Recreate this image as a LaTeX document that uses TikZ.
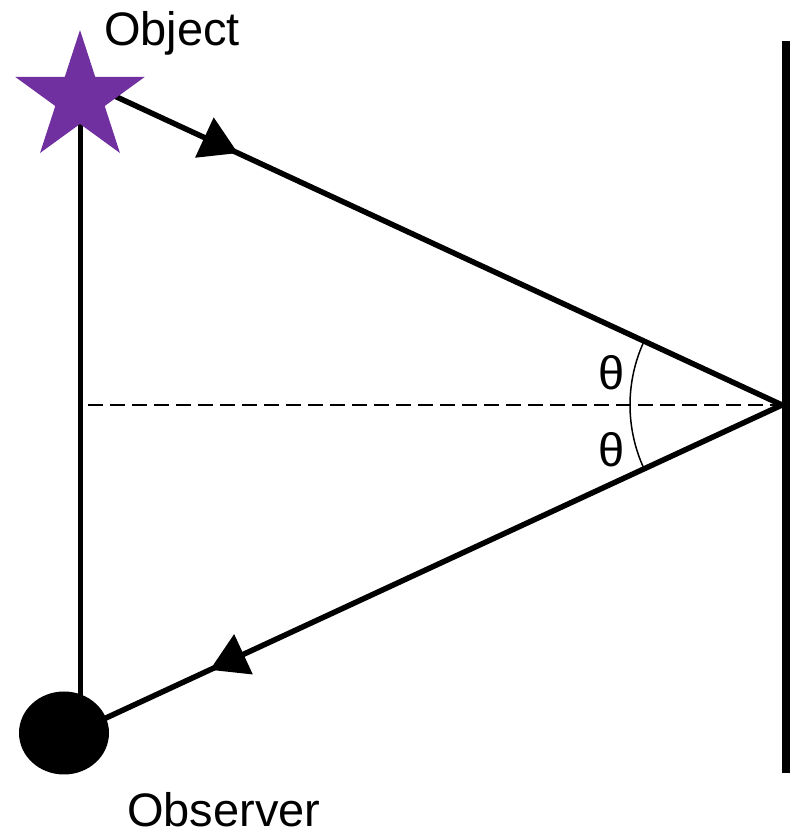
\documentclass[tikz,border=0pt]{standalone}
\usepackage{fontspec}
\setmainfont{Liberation Sans}
\usetikzlibrary{shapes.geometric,arrows.meta,decorations.markings,backgrounds}
\definecolor{objpurple}{RGB}{112,48,160}

\begin{document}
\begin{tikzpicture}[x=1pt,y=1pt,
  lbl/.style={font=\fontsize{47}{56}\selectfont,inner sep=0pt},
  ray/.style={line width=5.5pt},
  rayarrow/.style={postaction={decorate},decoration={markings,mark=at position #1 with {\arrow{Triangle[length=37pt,width=43pt]}}}}]
\useasboundingbox (0,0) rectangle (792,834);
\node[star,star points=5,star point ratio=2.618,minimum size=136pt,inner sep=0pt,fill=objpurple] (object) at (80,736) {};
\node[ellipse,fill=black,minimum width=90pt,minimum height=83pt,inner sep=0pt] (observer) at (64,101) {};
\coordinate (obj) at (80,754);
\coordinate (look) at (80,104);
\coordinate (refl) at (782,429);
\coordinate (axis) at (88,429);
\coordinate (mtop) at (786,793);
\coordinate (mbot) at (786,61);
\node[lbl,anchor=base west] (objlabel) at (104,788) {Object};
\node[lbl,anchor=base west] (obslabel) at (127,7) {Observer};
\node[lbl] (th1) at (612,461) {θ};
\node[lbl] (th2) at (612,384) {θ};
\begin{scope}[on background layer]
\draw[line width=5pt] (object.center) -- (object.center |- observer.center);
\draw[ray,rayarrow=0.225] (obj) -- (refl);
\draw[ray,rayarrow=0.815] (refl) -- (look);
\end{scope}
\draw[line width=2pt,dash pattern=on 15pt off 7pt] (axis) -- (refl);
\draw[line width=8pt] (mtop) -- (mbot);
\draw[line width=1.5pt] (refl) ++(155.2:152) arc[start angle=155.2,end angle=204.8,radius=152];
\end{tikzpicture}
\end{document}
